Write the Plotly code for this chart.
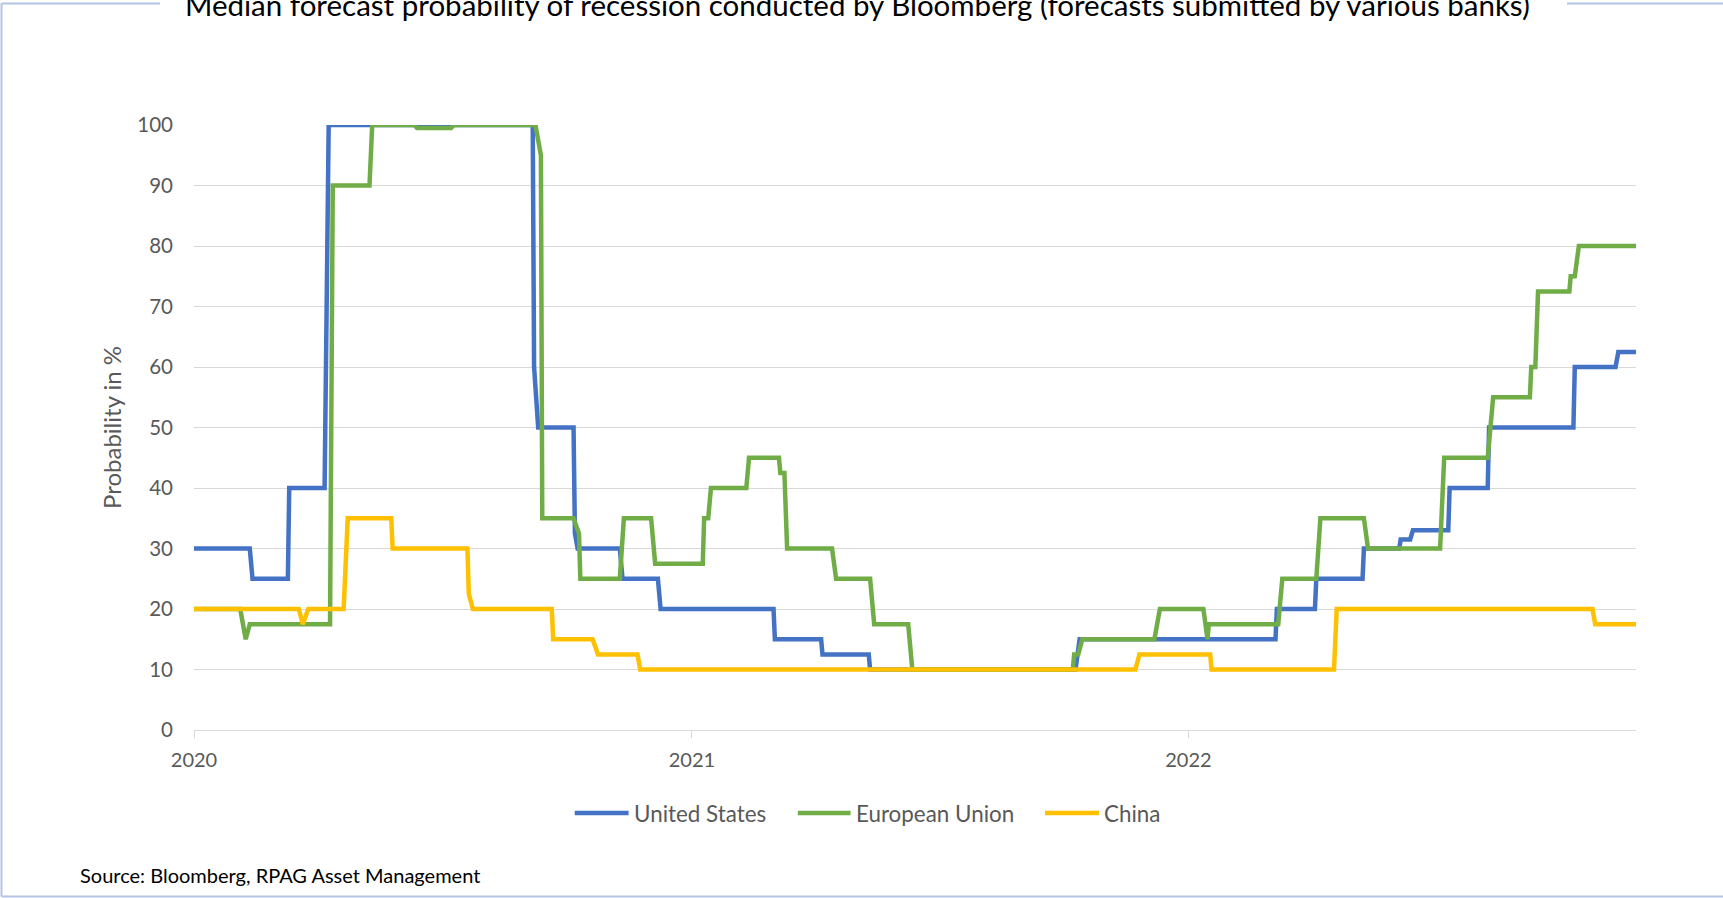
import plotly.graph_objects as go

# ---------------- data ----------------
us_dates = ["2020-01-01", "2020-02-11", "2020-02-13", "2020-03-10", "2020-03-11", "2020-04-06",
            "2020-04-09", "2020-09-06", "2020-09-07", "2020-09-10", "2020-10-06", "2020-10-07",
            "2020-10-09", "2020-11-09", "2020-11-11", "2020-12-07", "2020-12-09", "2021-03-02",
            "2021-03-03", "2021-04-06", "2021-04-07", "2021-05-11", "2021-05-12", "2021-10-10",
            "2021-10-13", "2022-03-06", "2022-03-07", "2022-04-04", "2022-04-05", "2022-05-09",
            "2022-05-10", "2022-06-05", "2022-06-06", "2022-06-13", "2022-06-15", "2022-07-11",
            "2022-07-12", "2022-08-09", "2022-08-10", "2022-10-11", "2022-10-12", "2022-11-11",
            "2022-11-13", "2022-11-26"]
us_values = [30, 30, 25, 25, 40, 40, 100, 100, 60, 50, 50, 32.5, 30, 30, 25, 25, 20, 20, 15, 15,
             12.5, 12.5, 10, 10, 15, 15, 20, 20, 25, 25, 30, 30, 31.5, 31.5, 33, 33, 40, 40, 50, 50,
             60, 60, 62.5, 62.5]

eu_dates = ["2020-01-01", "2020-02-04", "2020-02-08", "2020-02-11", "2020-04-10", "2020-04-12",
            "2020-05-09", "2020-05-11", "2020-06-11", "2020-06-13", "2020-07-08", "2020-07-10",
            "2020-09-08", "2020-09-12", "2020-09-13", "2020-10-06", "2020-10-10", "2020-10-11",
            "2020-11-09", "2020-11-12", "2020-12-02", "2020-12-05", "2021-01-09", "2021-01-10",
            "2021-01-13", "2021-01-15", "2021-02-10", "2021-02-12", "2021-03-06", "2021-03-07",
            "2021-03-10", "2021-03-12", "2021-04-14", "2021-04-17", "2021-05-12", "2021-05-15",
            "2021-06-09", "2021-06-12", "2021-10-08", "2021-10-09", "2021-10-12", "2021-10-15",
            "2021-12-07", "2021-12-11", "2022-01-12", "2022-01-15", "2022-01-16", "2022-03-08",
            "2022-03-11", "2022-04-05", "2022-04-08", "2022-05-10", "2022-05-13", "2022-07-05",
            "2022-07-08", "2022-08-09", "2022-08-13", "2022-09-09", "2022-09-10", "2022-09-13",
            "2022-09-15", "2022-10-08", "2022-10-09", "2022-10-12", "2022-10-15", "2022-11-26"]
eu_values = [20, 20, 15, 17.5, 17.5, 90, 90, 100, 100, 99.5, 99.5, 100, 100, 95, 35, 35, 32.5, 25,
             25, 35, 35, 27.5, 27.5, 35, 35, 40, 40, 45, 45, 42.5, 42.5, 30, 30, 25, 25, 17.5,
             17.5, 10, 10, 12.5, 12.5, 15, 15, 20, 20, 15, 17.5, 17.5, 25, 25, 35, 35, 30, 30,
             45, 45, 55, 55, 60, 60, 72.5, 72.5, 75, 75, 80, 80]

cn_dates = ["2020-01-01", "2020-03-18", "2020-03-21", "2020-03-25", "2020-04-20", "2020-04-23",
            "2020-05-25", "2020-05-26", "2020-07-20", "2020-07-21", "2020-07-24", "2020-09-20",
            "2020-09-21", "2020-10-20", "2020-10-24", "2020-11-22", "2020-11-24", "2021-11-23",
            "2021-11-26", "2022-01-17", "2022-01-18", "2022-04-18", "2022-04-20", "2022-10-25",
            "2022-10-27", "2022-11-26"]
cn_values = [20, 20, 17.5, 20, 20, 35, 35, 30, 30, 22.5, 20, 20, 15, 15, 12.5, 12.5, 10, 10,
             12.5, 12.5, 10, 10, 20, 20, 17.5, 17.5]

series_names = ["United States", "European Union", "China"]
series_colors = ["#4472C4", "#70AD47", "#FFC000"]

x_tick_vals = ["2020-01-01", "2021-01-01", "2022-01-01"]
x_tick_text = ["2020", "2021", "2022"]
y_tick_vals = [0, 10, 20, 30, 40, 50, 60, 70, 80, 90, 100]

title_text = "Median forecast probability of recession conducted by Bloomberg (forecasts submitted by various banks)"
y_title = "Probability in %"
source_text = "Source: Bloomberg, RPAG Asset Management"

# ---------------- layout geometry ----------------
W, H = 1723, 898
ML, MR, MT, MB = 194, 87, 125, 168
PW, PH = W - ML - MR, H - MT - MB


def px(x):
    return (x - ML) / PW


def py(y):
    return (H - MB - y) / PH


FONT = "Lato, 'Open Sans', sans-serif"
GRID = "#d9d9d9"
TXT = "#595959"
BORDER = "#b4c4e4"

fig = go.Figure()
for name, d, v, c in zip(series_names, [us_dates, eu_dates, cn_dates],
                         [us_values, eu_values, cn_values], series_colors):
    fig.add_trace(go.Scatter(x=d, y=v, mode="lines", name=name,
                             line=dict(color=c, width=4.5)))

fig.update_layout(
    width=W, height=H,
    margin=dict(l=ML, r=MR, t=MT, b=MB, pad=0),
    paper_bgcolor="white", plot_bgcolor="white",
    font=dict(family=FONT, size=20, color=TXT),
    showlegend=False,
    xaxis=dict(type="date", range=["2020-01-01", "2022-11-26"],
               tickmode="array", tickvals=x_tick_vals, ticktext=x_tick_text,
               ticks="outside", ticklen=7, tickcolor=GRID, tickwidth=1.3,
               showline=True, linecolor=GRID, linewidth=1.3, showgrid=False,
               zeroline=False, tickfont=dict(size=20, color=TXT), ticklabelstandoff=5),
    yaxis=dict(range=[0, 100], tickmode="array", tickvals=y_tick_vals,
               showgrid=True, gridcolor=GRID, gridwidth=1.3, zeroline=False,
               showline=False, ticks="", tickfont=dict(size=20.5, color=TXT),
               ticklabelstandoff=20),
)

# legend (drawn below the plot, Excel style: long line sample, then the name)
legend_line_x = [(574.7, 628.6), (797.8, 850.6), (1045.0, 1099.0)]
LEG_Y = 813
for (x0, x1), name, c in zip(legend_line_x, series_names, series_colors):
    fig.add_shape(type="line", xref="paper", yref="paper", x0=px(x0), x1=px(x1),
                  y0=py(LEG_Y), y1=py(LEG_Y), line=dict(color=c, width=4.5))
    fig.add_annotation(text=name, xref="paper", yref="paper", x=px(x1 + 3), y=py(LEG_Y),
                       xanchor="left", yanchor="middle", showarrow=False,
                       font=dict(family=FONT, size=22.4, color=TXT))

# chart frame (top border interrupted by the title)
line_style = dict(color=BORDER, width=2)
fig.add_shape(type="line", xref="paper", yref="paper", x0=px(1.5), x1=px(1.5),
              y0=py(3.5), y1=py(896.5), line=line_style)
fig.add_shape(type="line", xref="paper", yref="paper", x0=px(1.5), x1=px(1730),
              y0=py(896.5), y1=py(896.5), line=line_style)
fig.add_shape(type="line", xref="paper", yref="paper", x0=px(1.5), x1=px(160),
              y0=py(3.5), y1=py(3.5), line=line_style)
fig.add_shape(type="line", xref="paper", yref="paper", x0=px(1567), x1=px(1730),
              y0=py(3.5), y1=py(3.5), line=line_style)

fig.add_annotation(text=title_text, xref="paper", yref="paper", x=px(857), y=py(4),
                   xanchor="center", yanchor="middle", showarrow=False,
                   font=dict(family=FONT, size=29.5, color="#000000"))
fig.add_annotation(text=y_title, xref="paper", yref="paper", x=px(111), y=py(428),
                   xanchor="center", yanchor="middle", textangle=-90, showarrow=False,
                   font=dict(family=FONT, size=24, color=TXT))
fig.add_annotation(text=source_text, xref="paper", yref="paper", x=px(78), y=py(875),
                   xanchor="left", yanchor="middle", showarrow=False,
                   font=dict(family=FONT, size=20, color="#000000"))

fig.write_html("out.html", config={"displayModeBar": False},
               post_script="document.body.style.margin='0';")
